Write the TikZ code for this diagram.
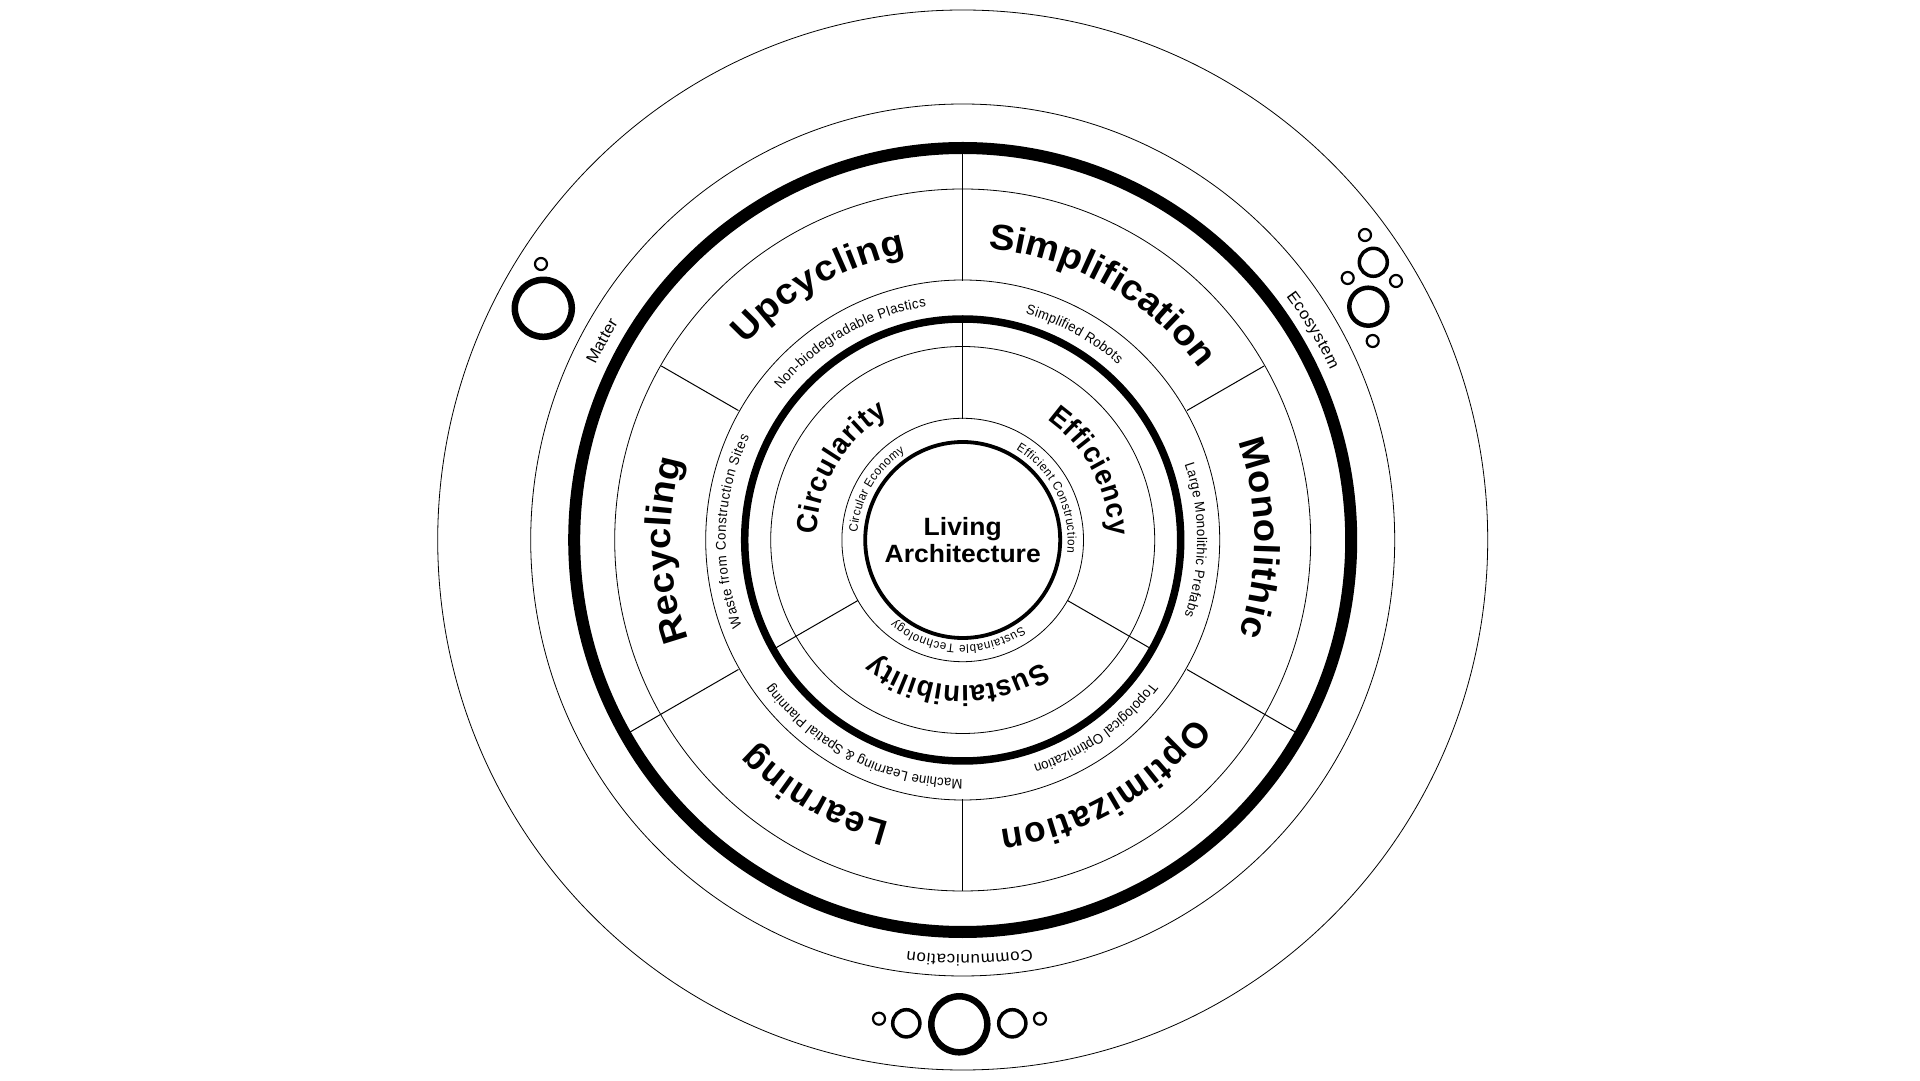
\documentclass[tikz,border=0pt]{standalone}
\usepackage{fontspec}
\usetikzlibrary{decorations.text}
\newfontfamily\cenfam[FakeStretch=1.06]{Liberation Sans}
\newfontfamily\hdA[FakeStretch=1.06]{Liberation Sans}
\newfontfamily\hdB[FakeStretch=0.98]{Liberation Sans}
\newfontfamily\hdC[FakeStretch=0.95]{Liberation Sans}
\newfontfamily\smfam[FakeStretch=0.94]{Liberation Sans}
\newfontfamily\outfam[FakeStretch=1.05]{Liberation Sans}
\def\bigF{\hdA\bfseries\fontsize{36}{36}\selectfont}
\def\bigG{\hdB\bfseries\fontsize{36}{36}\selectfont}
\def\midF{\hdC\bfseries\fontsize{29}{29}\selectfont}
\def\cenF{\cenfam\bfseries\fontsize{25}{26.7}\selectfont}
\def\smF{\smfam\fontsize{14}{14}\selectfont}
\def\tinyF{\smfam\fontsize{12.3}{12.3}\selectfont}
\def\outF{\outfam\fontsize{16}{16}\selectfont}
% radius, start and end angle clockwise from the top, font, text
\newcommand\arctext[5]{%
  \path[decorate,decoration={text along path,text align={fit to path},text={|#4|#5{\kern0pt}}}]
    ([shift={({90-#2}:#1pt)}]C) arc[start angle={90-#2},end angle={90-#3},radius=#1pt];}
\tikzset{
  hair/.style={draw=black,line width=0.8pt},
  divider/.style={draw=black,line width=1pt},
  bubS/.style={draw=black,line width=2.2pt},
  bubM/.style={draw=black,line width=3.5pt},
  bubL/.style={draw=black,line width=6.5pt},
  bubX/.style={draw=black,line width=4.5pt}
}
\begin{document}
\begin{tikzpicture}[x=1pt,y=1pt]
\path[use as bounding box,fill=white] (0,0) rectangle (1920,1080);
\coordinate (C) at (962.7,540);
% rings
\draw[hair] (C) ellipse[x radius=525pt,y radius=530pt];
\draw[hair] (C) ellipse[x radius=432pt,y radius=436pt];
\draw[black,line width=12pt] (C) ellipse[x radius=388.5pt,y radius=392pt];
\draw[hair] (C) ellipse[x radius=348pt,y radius=351pt];
\draw[hair] (C) ellipse[x radius=257pt,y radius=260pt];
\draw[black,line width=7.5pt] (C) ellipse[x radius=218pt,y radius=221pt];
\draw[hair] (C) ellipse[x radius=192pt,y radius=193.5pt];
\draw[hair] (C) ellipse[x radius=120.8pt,y radius=121.7pt];
\draw[black,line width=3.8pt] (C) ellipse[x radius=97.5pt,y radius=98pt];
% dividers
\foreach \a/\b in {90/388,30/348,-30/388,-90/351,210/388,150/348}
  \draw[divider] ([shift={(\a:259pt)}]C) -- ([shift={(\a:\b pt)}]C);
\foreach \a in {90,210,330}
  \draw[divider] ([shift={(\a:121pt)}]C) -- ([shift={(\a:219pt)}]C);
% centre
\node[align=center,font=\cenF,inner sep=0pt] (centre) at (962.7,540) {Living\\Architecture};
% bold labels, outer
\arctext{292}{5}{53.5}{\bigF}{Simplification}
\arctext{292}{70.3}{109}{\bigF}{Monolithic}
\arctext{292}{127.5}{173}{\bigG}{Optimization}
\arctext{292}{194.5}{225.8}{\bigG}{Learning}
\arctext{292}{250}{286}{\bigF}{Recycling}
\arctext{292}{312}{349}{\bigF}{Upcycling}
% small labels, outer
\arctext{234.5}{15.5}{41.6}{\smF}{Simplified Robots}
\arctext{234.5}{71.2}{109}{\smF}{Large Monolithic Prefabs}
\arctext{236}{127}{162.6}{\smF}{Topological Optimization}
\arctext{239}{180}{233}{\smF}{Machine Learning {\&} Spatial Planning}
\arctext{237}{248.7}{295.9}{\smF}{Waste from Construction Sites}
\arctext{236}{309.5}{351.2}{\smF}{Non-biodegradable Plastics}
% bold labels, inner
\arctext{147}{35}{88.7}{\midF}{Efficiency}
\arctext{146}{147}{217.5}{\midF}{Sustainibility}
\arctext{146}{272}{329.5}{\midF}{Circularity}
% small labels, inner
\arctext{105}{30.6}{97.3}{\tinyF}{Efficient Construction}
\arctext{105}{145.5}{220.5}{\tinyF}{Sustainable Technology}
\arctext{105.5}{274}{327}{\tinyF}{Circular Economy}
% outermost labels
\arctext{407}{295.5}{302.2}{\outF}{Matter}
\arctext{405}{53}{65.3}{\outF}{Ecosystem}
\arctext{415}{170.4}{187.8}{\outF}{Communication}
% bubbles
\begin{scope}[yscale=-1,yshift=-1080pt]
\draw[bubL] (543.3,308.3) circle[radius=28.5pt];
\draw[bubS] (541,264) circle[radius=6pt];
\draw[bubS] (1365,235) circle[radius=6pt];
\draw[bubM] (1373.3,262.3) circle[radius=14pt];
\draw[bubS] (1347.7,278) circle[radius=6pt];
\draw[bubS] (1396,281) circle[radius=6pt];
\draw[bubX] (1368.3,306.7) circle[radius=19pt];
\draw[bubS] (1372.7,341) circle[radius=6pt];
\draw[bubL] (959.3,1024.3) circle[radius=28pt];
\draw[bubM] (906.3,1023.3) circle[radius=13.6pt];
\draw[bubM] (1012.3,1023.3) circle[radius=13.6pt];
\draw[bubS] (879,1018.7) circle[radius=6pt];
\draw[bubS] (1040,1018.7) circle[radius=6pt];
\end{scope}
\end{tikzpicture}
\end{document}
